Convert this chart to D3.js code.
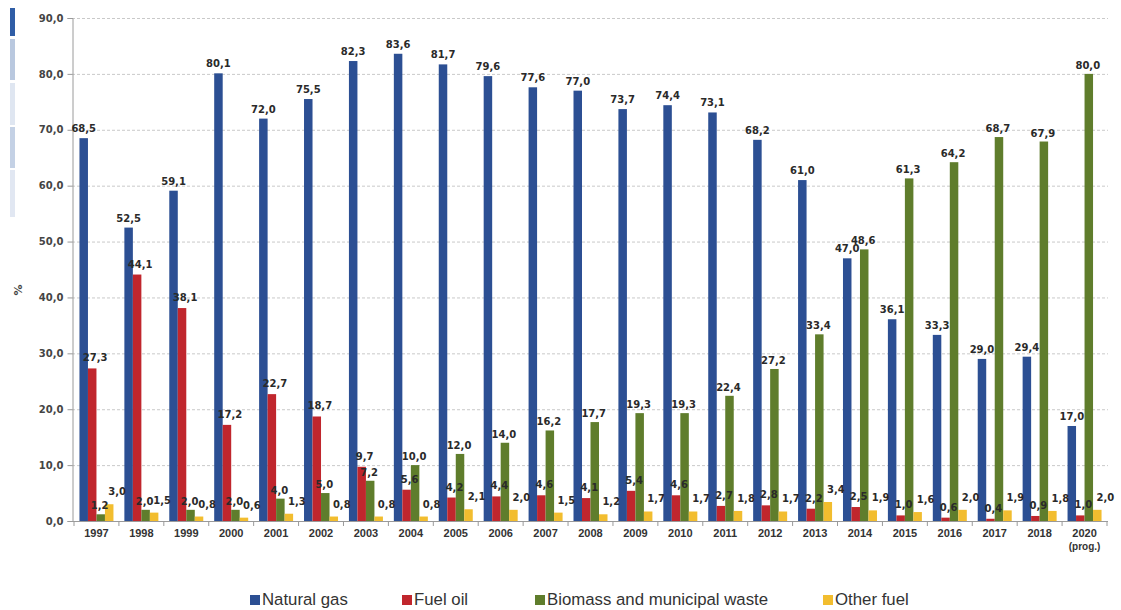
<!DOCTYPE html>
<html>
<head>
<meta charset="utf-8">
<script src="https://cdn.jsdelivr.net/npm/d3@7"></script>
<style>
  html, body { margin: 0; padding: 0; background: #fff; }
  svg { display: block; }
</style>
</head>
<body>
<svg id="chart" width="1121" height="610"></svg>
<script>
// Fuel mix of district heat production, % by year
const years = ["1997","1998","1999","2000","2001","2002","2003","2004","2005","2006","2007","2008",
               "2009","2010","2011","2012","2013","2014","2015","2016","2017","2018","2020"];
const naturalGas = [68.5,52.5,59.1,80.1,72.0,75.5,82.3,83.6,81.7,79.6,77.6,77.0,73.7,74.4,73.1,68.2,61.0,47.0,36.1,33.3,29.0,29.4,17.0];
const fuelOil    = [27.3,44.1,38.1,17.2,22.7,18.7,9.7,5.6,4.2,4.4,4.6,4.1,5.4,4.6,2.7,2.8,2.2,2.5,1.0,0.6,0.4,0.9,1.0];
const biomass    = [1.2,2.0,2.0,2.0,4.0,5.0,7.2,10.0,12.0,14.0,16.2,17.7,19.3,19.3,22.4,27.2,33.4,48.6,61.3,64.2,68.7,67.9,80.0];
const otherFuel  = [3.0,1.5,0.8,0.6,1.3,0.8,0.8,0.8,2.1,2.0,1.5,1.2,1.7,1.7,1.8,1.7,3.4,1.9,1.6,2.0,1.9,1.8,2.0];
const seriesNames = ["Natural gas","Fuel oil","Biomass and municipal waste","Other fuel"];
const yTicks = [0,10,20,30,40,50,60,70,80,90];
const yearNote = {"2020": "(prog.)"};

const series = [
  {name: seriesNames[0], values: naturalGas, color: "#2c4f93", dx: 0,  lift: 6},
  {name: seriesNames[1], values: fuelOil,    color: "#c0262d", dx: 3,  lift: 7},
  {name: seriesNames[2], values: biomass,    color: "#5f7d2c", dx: -1, lift: 5},
  {name: seriesNames[3], values: otherFuel,  color: "#f2bd2f", dx: 8,  lift: 9}
];

const svg = d3.select("#chart");
const fmt = v => v.toFixed(1).replace(".", ",");

const x0 = d3.scaleBand().domain(years).range([74, 1107]).padding(0);
const groupW = 34;
const x1 = d3.scaleBand().domain(seriesNames)
  .range([(x0.bandwidth() - groupW) / 2, (x0.bandwidth() + groupW) / 2]).padding(0);
const y = d3.scaleLinear().domain([0, 90]).range([521, 18]);

// decorative strip at the left edge
const strip = [[8, 36, "#2f5da6"], [39, 80, "#b9c8df"], [83, 125, "#dfe6f1"], [127, 168, "#c4d1e5"], [170, 217, "#e1e7f2"]];
svg.append("g").selectAll("rect").data(strip).join("rect")
  .attr("x", 10).attr("width", 5)
  .attr("y", d => d[0]).attr("height", d => d[1] - d[0])
  .attr("fill", d => d[2]);

// horizontal gridlines
svg.append("g").selectAll("line").data(yTicks.filter(t => t > 0)).join("line")
  .attr("x1", 72).attr("x2", 1108)
  .attr("y1", d => y(d) + 0.5).attr("y2", d => y(d) + 0.5)
  .attr("stroke", "#c9c9c9").attr("stroke-dasharray", "3,2").attr("stroke-width", 1);

// y axis
const yAxis = svg.append("g").attr("transform", "translate(72.5,0)")
  .call(d3.axisLeft(y).tickValues(yTicks).tickFormat(fmt).tickSize(5).tickPadding(4));
yAxis.select(".domain").attr("stroke", "#9a9a9a");
yAxis.selectAll(".tick line").attr("stroke", "#9a9a9a");
yAxis.selectAll(".tick text")
  .attr("font-family", "DejaVu Sans, sans-serif").attr("font-weight", "bold")
  .attr("font-size", 10).attr("fill", "#444");

svg.append("text")
  .attr("transform", "translate(22,290) rotate(-90)")
  .attr("text-anchor", "middle")
  .attr("font-family", "DejaVu Sans, sans-serif").attr("font-weight", "bold")
  .attr("font-size", 11).attr("fill", "#444").text("%");

// bars, one group per year
const cells = (yr, i) => series.map(s => ({s, v: s.values[i]}));
const barLayer = svg.append("g");
const labelLayer = svg.append("g");

barLayer.selectAll("g").data(years).join("g")
  .attr("transform", d => `translate(${x0(d)},0)`)
  .selectAll("rect").data(cells).join("rect")
  .attr("x", d => x1(d.s.name))
  .attr("width", x1.bandwidth())
  .attr("y", d => y(d.v))
  .attr("height", d => y(0) - y(d.v))
  .attr("fill", d => d.s.color);

// value labels drawn above every bar
labelLayer.selectAll("g").data(years).join("g")
  .attr("transform", d => `translate(${x0(d)},0)`)
  .selectAll("text").data(cells).join("text")
  .attr("x", d => x1(d.s.name) + x1.bandwidth() / 2 + d.s.dx)
  .attr("y", d => y(d.v) - d.s.lift)
  .attr("text-anchor", "middle")
  .attr("font-family", "DejaVu Sans, sans-serif").attr("font-weight", "bold")
  .attr("font-size", 10).attr("fill", "#2a2a2a")
  .text(d => fmt(d.v));

// x axis
svg.append("line").attr("x1", 72).attr("x2", 1108).attr("y1", 521.5).attr("y2", 521.5)
  .attr("stroke", "#9a9a9a");
svg.append("g").selectAll("line").data(years.concat(["end"])).join("line")
  .attr("x1", (d, i) => 74 + i * x0.step()).attr("x2", (d, i) => 74 + i * x0.step())
  .attr("y1", 521).attr("y2", 526).attr("stroke", "#9a9a9a");

svg.append("g").selectAll("text").data(years).join("text")
  .attr("x", d => x0(d) + x0.bandwidth() / 2)
  .attr("y", 537)
  .attr("text-anchor", "middle")
  .attr("font-family", "Liberation Sans, Arial, sans-serif").attr("font-weight", "bold")
  .attr("font-size", 11).attr("fill", "#333")
  .text(d => d);
svg.append("g").selectAll("text").data(years.filter(d => yearNote[d])).join("text")
  .attr("x", d => x0(d) + x0.bandwidth() / 2)
  .attr("y", 550)
  .attr("text-anchor", "middle")
  .attr("font-family", "Liberation Sans, Arial, sans-serif").attr("font-weight", "bold")
  .attr("font-size", 10).attr("fill", "#333")
  .text(d => yearNote[d]);

// legend
const legendX = [250, 402, 535, 823];
const legend = svg.append("g").selectAll("g").data(series).join("g")
  .attr("transform", (d, i) => `translate(${legendX[i]},595)`);
legend.append("rect").attr("width", 10).attr("height", 10).attr("fill", d => d.color);
legend.append("text").attr("x", 12).attr("y", 10)
  .attr("font-family", "Liberation Sans, Arial, sans-serif").attr("font-size", 16.8).attr("fill", "#333")
  .text(d => d.name);
</script>
</body>
</html>
